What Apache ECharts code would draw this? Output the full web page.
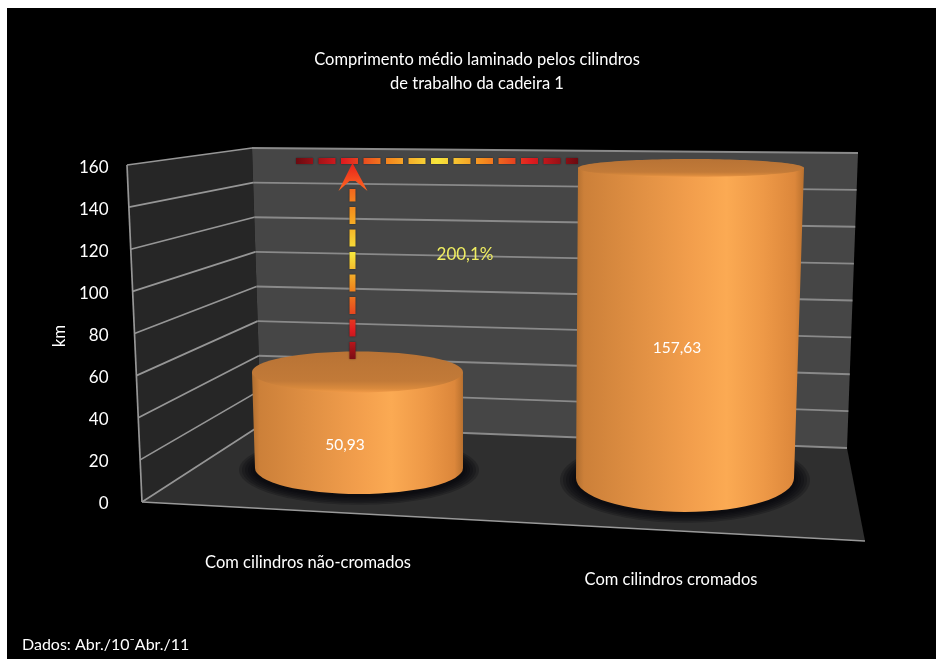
<!DOCTYPE html>
<html><head><meta charset="utf-8">
<style>
html,body{margin:0;padding:0;background:#fff;width:936px;height:659px;overflow:hidden}
#plate{position:absolute;left:7px;top:8px;width:929px;height:651px;background:#000}
#chart{position:absolute;left:0;top:0;width:936px;height:659px}
</style>
<script src="https://cdn.jsdelivr.net/npm/echarts@6/dist/echarts.min.js"></script>
</head><body><div id="plate"></div><div id="chart"></div>
<script>
const categories = ['Com cilindros não-cromados', 'Com cilindros cromados'];
const values = [50.93, 157.63];
const valueLabels = ['50,93', '157,63'];
const yTicks = [0, 20, 40, 60, 80, 100, 120, 140, 160];
const titleText = 'Comprimento médio laminado pelos cilindros\nde trabalho da cadeira 1';
const sourceText = 'Dados: Abr./10⁻Abr./11';
const gainText = '200,1%';
const axisName = 'km';

// Scene layout (perspective box and per-cylinder framing), separate from data
const FONT = 'Lato';
const box = {
  frontTop:[127,165], frontBottom:[142,502],
  backTop:[252,148], backBottom:[261,425],
  rightTop:[858,153], rightBottom:[847,448],
  floorRight:[865,541]
};
const frames = [
  {dx:51, dy:-36, rx:104, ry:26, depth:0.898, lean:-0.016, flare:0.0156, ryLoss:0.057, label:[-14,-23]},
  {dx:14, dy:-26, rx:109, ry:34, depth:0.9365, lean:0.0194, flare:0.0129, ryLoss:0.0806, label:[-8,-130]}
];
const haloSteps = [16, 13, 10, 7, 4, 2];
const G = echarts.graphic.LinearGradient;
const lerp = (a,b,t)=>[a[0]+(b[0]-a[0])*t, a[1]+(b[1]-a[1])*t];

function level(api, v){
  const y0 = api.coord([0,0])[1], y1 = api.coord([0,yTicks[yTicks.length-1]])[1];
  return (y0 - api.coord([0,v])[1])/(y0-y1);
}
function renderSurfaces(){
  const b = box;
  return {type:'group', children:[
    {type:'polygon', shape:{points:[b.frontTop,b.backTop,b.backBottom,b.frontBottom]}, style:{fill:'#262626'}},
    {type:'polygon', shape:{points:[b.backTop,b.rightTop,b.rightBottom,b.backBottom]}, style:{fill:'#464646'}},
    {type:'polygon', shape:{points:[b.frontBottom,b.backBottom,b.rightBottom,b.floorRight]}, style:{fill:'#2f2f2f'}},
    {type:'line', shape:{x1:b.frontTop[0],y1:b.frontTop[1],x2:b.frontBottom[0],y2:b.frontBottom[1]}, style:{stroke:'#969696',lineWidth:1.7}},
    {type:'line', shape:{x1:b.frontBottom[0],y1:b.frontBottom[1],x2:b.floorRight[0],y2:b.floorRight[1]}, style:{stroke:'#999999',lineWidth:1.7}}
  ]};
}
function renderGridLine(params, api){
  const t = level(api, api.value(1));
  const f = lerp(box.frontBottom,box.frontTop,t), k = lerp(box.backBottom,box.backTop,t), r = lerp(box.rightBottom,box.rightTop,t);
  return {type:'group', children:[
    {type:'line', shape:{x1:f[0],y1:f[1],x2:k[0],y2:k[1]}, style:{stroke:'#969696',lineWidth:1.7}},
    {type:'line', shape:{x1:k[0],y1:k[1],x2:r[0],y2:r[1]}, style:{stroke:'#8a8a8a',lineWidth:1.8}}
  ]};
}
function renderCylinder(params, api){
  const i = params.dataIndex, fr = frames[i];
  const p0 = api.coord([api.value(0),0]), p1 = api.coord([api.value(0),api.value(1)]);
  const cx = p0[0]+fr.dx, by = p0[1]+fr.dy;
  const h = (p0[1]-p1[1])*fr.depth;
  const ty = by-h, tx = cx+h*fr.lean, trx = fr.rx+h*fr.flare, try_ = fr.ry-h*fr.ryLoss;
  const side = `M${tx-trx} ${ty}L${cx-fr.rx} ${by}A${fr.rx} ${fr.ry} 0 0 0 ${cx+fr.rx} ${by}L${tx+trx} ${ty}Z`;
  const halo = haloSteps.map(s=>({type:'ellipse', shape:{cx:cx,cy:by+2,rx:fr.rx+s,ry:fr.ry+s*0.55},
    style:{fill:'rgba(6,6,10,0.22)'}}));
  return {type:'group', children:halo.concat([
    {type:'path', shape:{pathData:side}, style:{fill:new G(0,0,1,0,[
      {offset:0,color:'#b06e30'},{offset:0.035,color:'#cc8039'},{offset:0.25,color:'#de8e42'},
      {offset:0.5,color:'#f29e4c'},{offset:0.66,color:'#fbaa53'},{offset:0.82,color:'#ee9947'},
      {offset:0.96,color:'#dc873b'},{offset:1,color:'#b9712f'}])}},
    {type:'ellipse', shape:{cx:tx,cy:ty,rx:trx,ry:try_}, style:{fill:new G(0,0,0,1,[
      {offset:0,color:'#b87335'},{offset:0.72,color:'#c27a38'},{offset:0.9,color:'#d98a3d'},{offset:1,color:'#f09a48'}])}},
    {type:'text', x:cx+fr.label[0], y:by+fr.label[1], style:{text:valueLabels[i],fill:'#fff',font:'15.5px '+FONT,textAlign:'center',textVerticalAlign:'middle'}}
  ])};
}
function renderGain(params, api){
  const a = api.coord([0,values[0]]), c = api.coord([1,values[1]]);
  const ax = a[0]+44.5, baseY = a[1]-38, lvl = c[1]-12, left = a[0]-12, right = c[0]-93;
  const tip = lvl+2;
  const hStops = [[0,'#6a0a10'],[1/6,'#e01c20'],[1/3,'#f58a1e'],[1/2,'#f7e63c'],[2/3,'#f58a1e'],[5/6,'#e01c20'],[1,'#6a0a10']].map(s=>({offset:s[0],color:s[1]}));
  const vStops = [[0,'#7a0c14'],[0.17,'#e01c20'],[0.42,'#f08a1e'],[0.62,'#f7e63c'],[0.85,'#f59a1e'],[1,'#f2661e']].map(s=>({offset:s[0],color:s[1]}));
  const dash = {lineWidth:6,lineDash:[17,5.5],shadowBlur:2,shadowColor:'rgba(0,0,0,0.5)'};
  return {type:'group', children:[
    {type:'line', shape:{x1:left,y1:lvl,x2:right,y2:lvl}, style:Object.assign({stroke:new G(left,0,right,0,hStops,true)},dash)},
    {type:'line', shape:{x1:ax,y1:baseY,x2:ax,y2:tip+26}, style:Object.assign({stroke:new G(0,baseY,0,tip+26,vStops,true)},dash)},
    {type:'polygon', shape:{points:[[ax,tip],[ax+15,tip+28],[ax+3,tip+18],[ax-3,tip+18],[ax-14,tip+28]]},
      style:{fill:new G(0,tip,0,tip+28,[{offset:0,color:'#e8201a'},{offset:1,color:'#ff6a22'}],true)}},
    {type:'text', x:a[0]+157, y:api.coord([0,120])[1]+3, style:{text:gainText,fill:'#f0ee62',font:'17px '+FONT,textAlign:'center',textVerticalAlign:'middle'}}
  ]};
}

const chart = echarts.init(document.getElementById('chart'));
chart.setOption({
  animation:false,
  backgroundColor:'transparent',
  title:[
    {text:titleText,left:472,top:43,textAlign:'center',textStyle:{color:'#fff',fontFamily:FONT,fontSize:16.5,fontWeight:'normal',lineHeight:24}},
    {text:sourceText,left:17,top:632,textStyle:{color:'#fff',fontFamily:FONT,fontSize:16,fontWeight:'normal'}}
  ],
  grid:{left:126.5,right:83.5,top:168,bottom:155,containLabel:false},
  xAxis:{type:'category',data:categories,axisLine:{show:false},axisTick:{show:false},splitLine:{show:false},
    axisLabel:{color:'#fff',fontFamily:FONT,fontSize:16.5,margin:50,interval:0,
      formatter:(v,i)=>`{c${i}|${v}}`,
      rich:{c0:{color:'#fff',fontFamily:FONT,fontSize:16.5},c1:{color:'#fff',fontFamily:FONT,fontSize:16.5,padding:[17,0,0,0]}}}},
  yAxis:{type:'value',min:0,max:160,interval:20,name:axisName,nameLocation:'middle',nameGap:56,nameRotate:90,
    nameTextStyle:{color:'#fff',fontFamily:FONT,fontSize:17},
    axisLine:{show:false},axisTick:{show:false},splitLine:{show:false},
    axisLabel:{color:'#fff',fontFamily:FONT,fontSize:17,margin:18}},
  series:[
    {type:'custom',z:1,silent:true,data:[[0,0]],renderItem:renderSurfaces,encode:{x:0,y:1}},
    {type:'custom',z:2,silent:true,data:yTicks.map(v=>[0,v]),renderItem:renderGridLine,encode:{x:0,y:1}},
    {type:'custom',z:3,silent:true,data:values.map((v,i)=>[i,v]),renderItem:renderCylinder,encode:{x:0,y:1}},
    {type:'custom',z:4,silent:true,data:[[0,0]],renderItem:renderGain,encode:{x:0,y:1}}
  ]
});
</script></body></html>
